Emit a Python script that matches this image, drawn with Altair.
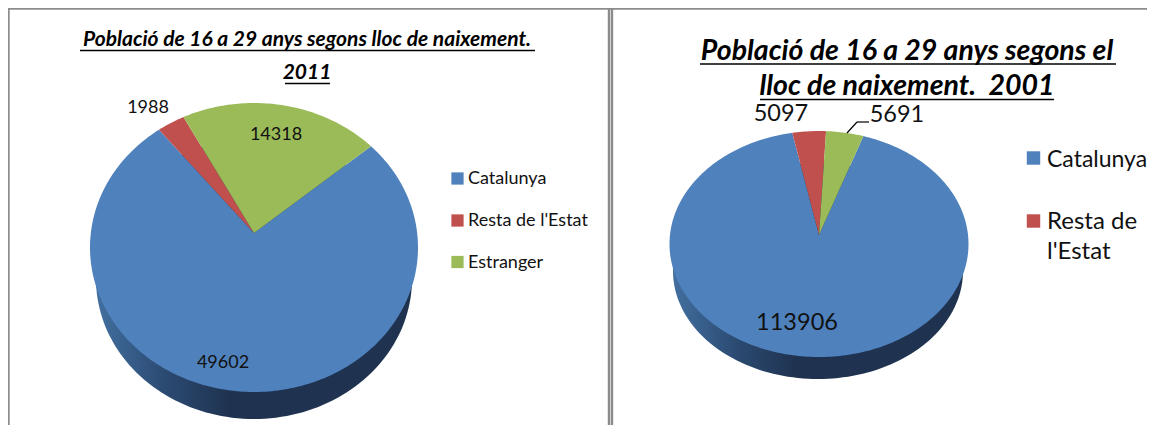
import math
import altair as alt
import pandas as pd

# ---- data ----
categories = ["Catalunya", "Resta de l'Estat", "Estranger"]
values_2011 = [49602, 1988, 14318]
values_2001 = [113906, 5097, 5691]
colors = ["#4f81bd", "#c0504d", "#9bbb59"]

PAGE = 8  # page margin: picture pixels -> chart pixels
FIG_W, FIG_H = 1139, 417


def xy(px, py):
    return [round(px - PAGE, 2), round(py - PAGE, 2)]


def ellipse_pt(e, deg):
    a = math.radians(deg)
    return xy(e["cx"] + e["rx"] * math.sin(a), e["cy"] - e["ry"] * math.cos(a))


def feature(ring, name, part):
    return {"type": "Feature", "properties": {"name": name, "part": part},
            "geometry": {"type": "Polygon", "coordinates": [ring]}}


def persp(deg, k):
    # perspective foreshortening of the tilted disc: far side is compressed
    return math.degrees(2 * math.atan(k * math.tan(math.radians(deg) / 2)))


def pie_features(values, e, start, part):
    total = sum(values)
    out, ang = [], start
    for name, v in zip(categories, values):
        sweep = 360 * v / total
        n = max(4, int(sweep))
        ring = [xy(e["ax"], e["ay"])]
        ring += [ellipse_pt(e, persp(ang + sweep * i / n, e["k"])) for i in range(n + 1)]
        ring.append(ring[0])
        out.append(feature(ring, name, part))
        ang += sweep
    return out


def wall_feature(e, part):
    ring = [ellipse_pt(e, d) for d in range(0, 361, 2)]
    return feature(ring, "wall", part)


face_l = dict(cx=254, cy=247.5, rx=164, ry=144.5, ax=254, ay=233, k=0.9)
wall_l = dict(cx=254, cy=279, rx=158, ry=140)
face_r = dict(cx=819, cy=244, rx=149.5, ry=113, ax=819, ay=235, k=0.885)
wall_r = dict(cx=818, cy=271, rx=145, ry=108)

slices = pie_features(values_2011, face_l, 50, "2011") + pie_features(values_2001, face_r, 19.5, "2001")

proj = dict(type="identity", scale=1, translate=[0, 0])
color_scale = alt.Scale(domain=categories, range=colors)

wall_grad = alt.Gradient(
    gradient="linear", x1=0, y1=0, x2=1, y2=0,
    stops=[alt.GradientStop(color="#426f9f", offset=0),
           alt.GradientStop(color="#2b4a72", offset=0.22),
           alt.GradientStop(color="#1f3350", offset=0.42),
           alt.GradientStop(color="#1f3350", offset=1)],
)

walls = alt.Chart(alt.Data(values=[wall_feature(wall_l, "2011"), wall_feature(wall_r, "2001")])).mark_geoshape(
    fill=wall_grad, strokeWidth=0).project(**proj)
faces = alt.Chart(alt.Data(values=slices)).mark_geoshape(strokeWidth=0).encode(
    fill=alt.Fill("properties.name:N", scale=color_scale, legend=None)).project(**proj)


def T(px, py, text, **kw):
    return {"x": px - PAGE, "y": py - PAGE, "text": text, **kw}


def text_layer(rows, **mark):
    return alt.Chart(pd.DataFrame(rows)).mark_text(**mark).encode(
        x=alt.X("x:Q", scale=None, axis=None),
        y=alt.Y("y:Q", scale=None, axis=None),
        text="text:N",
    )


FONT = "Lato"

title_l = text_layer([T(307, 40, "Població de 16 a 29 anys segons lloc de naixement."),
                      T(307, 73, "2011")],
                     font=FONT, fontSize=21, fontWeight="bold", fontStyle="italic", color="#000000")
title_r = text_layer([T(907, 51, "Població de 16 a 29 anys segons el"),
                      T(907, 86, "lloc de naixement.\u00a0 2001")],
                     font=FONT, fontSize=28.5, fontWeight="bold", fontStyle="italic", color="#000000")

labels_l = text_layer([T(148, 108, str(values_2011[1])), T(276, 135, str(values_2011[2])),
                       T(223, 363, str(values_2011[0]))],
                      font=FONT, fontSize=18, color="#111111")
labels_r = text_layer([T(781, 113.5, str(values_2001[1])), T(897, 114.5, str(values_2001[2])),
                       T(797, 323, str(values_2001[0]))],
                      font=FONT, fontSize=23.5, color="#111111")

legend_text_l = text_layer([T(468, 179, categories[0]), T(468, 221, categories[1]), T(468, 263, categories[2])],
                           font=FONT, fontSize=18, align="left", color="#111111")
legend_text_r1 = text_layer([T(1047, 160, categories[0])],
                            font=FONT, fontSize=23, align="left", color="#111111")
legend_text_r2 = text_layer([T(1047, 222, "Resta de"), T(1047, 252, "l'Estat")],
                            font=FONT, fontSize=24, align="left", color="#111111")

swatches = alt.Chart(pd.DataFrame([
    {"x": 457.5 - PAGE, "y": 178.5 - PAGE, "c": categories[0], "s": 150},
    {"x": 457.5 - PAGE, "y": 220.5 - PAGE, "c": categories[1], "s": 150},
    {"x": 457.5 - PAGE, "y": 262 - PAGE, "c": categories[2], "s": 150},
    {"x": 1033.5 - PAGE, "y": 158 - PAGE, "c": categories[0], "s": 180},
    {"x": 1033.5 - PAGE, "y": 221 - PAGE, "c": categories[1], "s": 180},
])).mark_square(opacity=1).encode(
    x=alt.X("x:Q", scale=None, axis=None),
    y=alt.Y("y:Q", scale=None, axis=None),
    size=alt.Size("s:Q", scale=None, legend=None),
    fill=alt.Fill("c:N", scale=color_scale, legend=None),
)


def segs(rows, **mark):
    return alt.Chart(pd.DataFrame(rows)).mark_rule(**mark).encode(
        x=alt.X("x:Q", scale=None, axis=None), x2="x2:Q",
        y=alt.Y("y:Q", scale=None, axis=None), y2="y2:Q",
    )


def S(x1, y1, x2, y2):
    return {"x": x1 - PAGE, "y": y1 - PAGE, "x2": x2 - PAGE, "y2": y2 - PAGE}


underlines = segs([S(80, 50.5, 535, 50.5), S(285, 83.5, 330, 83.5),
                   S(700, 64, 1116, 64), S(760, 99.5, 1054, 99.5)],
                  color="#000000", strokeWidth=1.6)
leader = segs([S(847, 133, 857, 122), S(857, 122, 869, 122)], color="#000000", strokeWidth=1.2)
borders = segs([S(8, 8.5, 609, 8.5), S(609, 8.5, 1155, 8.5), S(8.5, 8, 8.5, 425),
                S(609, 8, 609, 425), S(612, 8, 612, 425)],
               color="#8c8c8c", strokeWidth=2.4)

chart = alt.layer(
    borders, walls, faces, title_l, title_r, underlines, leader,
    labels_l, labels_r, swatches, legend_text_l, legend_text_r1, legend_text_r2,
).properties(
    width=FIG_W, height=FIG_H, padding=0, autosize=alt.AutoSizeParams(type="none"),
).configure_view(stroke=None)

chart.save("out.html", embed_options={"renderer": "svg", "actions": False})
